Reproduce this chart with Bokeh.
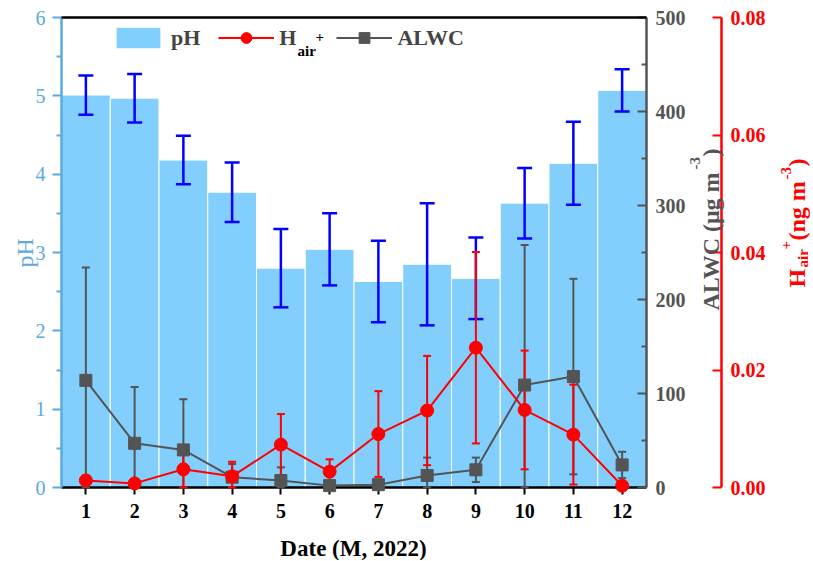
import numpy as np
from bokeh.plotting import figure
from bokeh.models import (Range1d, LinearAxis, FixedTicker, ColumnDataSource, Whisker,
                          TeeHead, Legend, LegendItem, Label, PrintfTickFormatter)
from bokeh.embed import file_html
from bokeh.resources import INLINE

# ---------------- data ----------------
months = list(range(1, 13))
month_labels = [str(m) for m in months]
ph = [5.01, 4.97, 4.18, 3.77, 2.80, 3.04, 2.63, 2.85, 2.67, 3.63, 4.14, 5.07]
ph_err = [0.25, 0.31, 0.31, 0.38, 0.50, 0.46, 0.52, 0.78, 0.52, 0.45, 0.53, 0.27]
alwc = [114, 47, 40, 11, 7.4, 2, 3, 12.8, 18.8, 109, 118, 24]
alwc_err = [120, 60, 54, 14, 14, 3, 3, 19, 13, 149, 104, 14]
h_air = [0.0012, 0.0007, 0.0031, 0.0019, 0.0073, 0.0027, 0.0091, 0.0131, 0.0238, 0.0132, 0.0090, 0.0003]
h_err = [0.0008, 0.0003, 0.0038, 0.0025, 0.0052, 0.0021, 0.0073, 0.0093, 0.0163, 0.0101, 0.0085, 0.0004]

ph_ticks = [0, 1, 2, 3, 4, 5, 6]
ph_minor = [0.5, 1.5, 2.5, 3.5, 4.5, 5.5]
alwc_ticks = [0, 100, 200, 300, 400, 500]
alwc_minor = [50, 150, 250, 350, 450]
h_ticks = [0.0, 0.02, 0.04, 0.06, 0.08]

PH_MAX, ALWC_MAX, H_MAX = 6, 500, 0.08

FONT = "Liberation Serif"
BLUE_AX = "#5AAAE0"
GREY = "#545454"
RED = "#FF0000"
BAR = "#82CFFD"
NB = "\u00a0"

# ---------------- layout (pixels inside the canvas; the frame fills the canvas) -------------
FIG_W, FIG_H = 810, 560
DATA_L, DATA_W = 61, 585          # data area left edge / width
DATA_B, DATA_H = 73, 470          # data area bottom edge (from canvas bottom) / height
H_AXIS_OFF = 75                   # second right axis, px right of the data area
X0, X1 = 0.5, 12.5


def span(lo, hi, px_lo, px_len, total):
    k = (hi - lo) / px_len
    return Range1d(lo - px_lo * k, lo + (total - px_lo) * k)


xr = span(X0, X1, DATA_L, DATA_W, FIG_W)
yr = span(0, PH_MAX, DATA_B, DATA_H, FIG_H)
alwc_r = span(0, ALWC_MAX, DATA_B, DATA_H, FIG_H)
h_r = span(0, H_MAX, DATA_B, DATA_H, FIG_H)
H_AXIS_X = X1 + H_AXIS_OFF * (X1 - X0) / DATA_W

p = figure(width=FIG_W, height=FIG_H, x_range=xr, y_range=yr,
           x_axis_location=None, y_axis_location=None,
           output_backend="svg", toolbar_location=None,
           min_border_left=0, min_border_top=0, min_border_bottom=0, min_border_right=0)
p.extra_y_ranges = {"alwc": alwc_r, "h": h_r}
p.outline_line_color = None
p.background_fill_color = "white"
p.border_fill_color = "white"
p.xgrid.visible = False
p.ygrid.visible = False


def style_axis(ax, color, bold=True):
    ax.axis_line_color = color
    ax.major_tick_line_color = color
    ax.minor_tick_line_color = color
    ax.major_label_text_color = color
    ax.axis_line_width = 2.5
    ax.major_tick_line_width = 2
    ax.minor_tick_line_width = 2
    ax.major_label_text_font = FONT
    ax.major_label_text_font_style = "bold" if bold else "normal"
    ax.major_label_text_font_size = "20px"


# x axis (at pH = 0)
xa = LinearAxis(fixed_location=0, ticker=FixedTicker(ticks=months), bounds=(X0, X1),
                major_label_overrides={m: l for m, l in zip(months, month_labels)})
style_axis(xa, "black")
xa.major_tick_out = 7
xa.major_tick_in = 0
xa.minor_tick_line_color = None
xa.major_label_standoff = 9
p.add_layout(xa, "below")

# left axis (pH)
ya = LinearAxis(fixed_location=X0, bounds=(0, PH_MAX),
                ticker=FixedTicker(ticks=ph_ticks, minor_ticks=ph_minor))
style_axis(ya, BLUE_AX, bold=False)
ya.major_tick_out = 9
ya.major_tick_in = 0
ya.minor_tick_out = 5
ya.minor_tick_in = 0
ya.major_label_standoff = 7
p.add_layout(ya, "left")

# right axis ALWC
ra = LinearAxis(y_range_name="alwc", fixed_location=X1, bounds=(0, ALWC_MAX),
                ticker=FixedTicker(ticks=alwc_ticks, minor_ticks=alwc_minor))
style_axis(ra, GREY)
ra.major_tick_in = 9
ra.major_tick_out = 0
ra.minor_tick_in = 5
ra.minor_tick_out = 0
ra.major_label_standoff = 9
p.add_layout(ra, "right")

# right axis H_air+
ha = LinearAxis(y_range_name="h", fixed_location=H_AXIS_X, bounds=(0, H_MAX),
                ticker=FixedTicker(ticks=h_ticks, minor_ticks=[]),
                formatter=PrintfTickFormatter(format="%.2f"))
style_axis(ha, RED)
ha.minor_tick_line_color = None
ha.major_tick_in = 9
ha.major_tick_out = 0
ha.major_label_standoff = 9
p.add_layout(ha, "right")

# top border line of the data area
p.segment(x0=[X0], y0=[PH_MAX], x1=[X1], y1=[PH_MAX], line_color="black", line_width=2.5,
          level="overlay")

# ---------------- glyphs ----------------
ph_src = ColumnDataSource(dict(x=months, top=ph,
                               up=[v + e for v, e in zip(ph, ph_err)],
                               lo=[v - e for v, e in zip(ph, ph_err)]))
al_src = ColumnDataSource(dict(x=months, y=alwc,
                               up=[v + e for v, e in zip(alwc, alwc_err)],
                               lo=[max(v - e, 0) for v, e in zip(alwc, alwc_err)]))
h_src = ColumnDataSource(dict(x=months, y=h_air,
                              up=[v + e for v, e in zip(h_air, h_err)],
                              lo=[max(v - e, 0) for v, e in zip(h_air, h_err)]))

bars = p.vbar(x="x", top="top", bottom=0, width=1.0, source=ph_src, fill_color=BAR,
              line_color="white", line_width=1)

p.add_layout(Whisker(base="x", upper="up", lower="lo", source=ph_src, line_color="#0000FF",
                     line_width=2.5, level="annotation",
                     upper_head=TeeHead(size=15, line_color="#0000FF", line_width=2.5),
                     lower_head=TeeHead(size=15, line_color="#0000FF", line_width=2.5)))
p.add_layout(Whisker(base="x", upper="up", lower="lo", source=al_src, y_range_name="alwc",
                     line_color=GREY, line_width=2, level="annotation",
                     upper_head=TeeHead(size=8, line_color=GREY, line_width=2),
                     lower_head=TeeHead(size=8, line_color=GREY, line_width=2)))
p.add_layout(Whisker(base="x", upper="up", lower="lo", source=h_src, y_range_name="h",
                     line_color=RED, line_width=2, level="annotation",
                     upper_head=TeeHead(size=8, line_color=RED, line_width=2),
                     lower_head=TeeHead(size=8, line_color=RED, line_width=2)))

al_line = p.line("x", "y", source=al_src, y_range_name="alwc", line_color=GREY, line_width=2,
                 level="overlay")
al_pts = p.scatter("x", "y", source=al_src, y_range_name="alwc", marker="square", size=12,
                   fill_color=GREY, line_color=GREY, level="overlay")
h_line = p.line("x", "y", source=h_src, y_range_name="h", line_color=RED, line_width=2,
                level="overlay")
h_pts = p.scatter("x", "y", source=h_src, y_range_name="h", marker="circle", size=13,
                  fill_color=RED, line_color=RED, level="overlay")

# ---------------- legend ----------------
LX, LY = DATA_L + 49, DATA_B + 436
legend = Legend(items=[LegendItem(label="pH", renderers=[bars]),
                       LegendItem(label="H" + NB * 4, renderers=[h_line, h_pts]),
                       LegendItem(label="ALWC", renderers=[al_line, al_pts])],
                orientation="horizontal", location=(LX, LY), padding=0, margin=0,
                spacing=18, glyph_width=56, glyph_height=27, label_standoff=5,
                label_text_font=FONT, label_text_font_style="bold", label_text_font_size="22px",
                background_fill_alpha=0, border_line_alpha=0)
p.add_layout(legend, "center")


def lab(text, x, y, size, color, angle=0.0, bold=True, align="left", baseline="alphabetic"):
    return Label(x=x, y=y, x_units="screen", y_units="screen", text=text, angle=angle,
                 text_font=FONT, text_font_style="bold" if bold else "normal",
                 text_font_size=size, text_color=color, text_align=align,
                 text_baseline=baseline)


def at(px, py):
    """picture-pixel position (from top-left) -> canvas position (from bottom-left)"""
    return px, FIG_H - py


V = np.pi / 2
labels = [
    # legend sub/superscript of H_air+
    ("air", (297, 50), "15px", "black", 0.0, True, "left"),
    ("+", (315, 36), "15px", "black", 0.0, True, "left"),
    # axis titles
    ("pH", (24, 267), "24px", BLUE_AX, V, False, "left"),
    ("Date (M, 2022)", (353, 548), "23px", "black", 0.0, True, "center"),
    ("ALWC (\u03bcg m", (710, 310), "24px", GREY, V, True, "left"),
    ("-3", (694, 169), "15px", GREY, V, True, "left"),
    (")", (710, 156), "24px", GREY, V, True, "left"),
    ("H", (796, 287), "24px", RED, V, True, "left"),
    ("air", (802, 267), "15px", RED, V, True, "left"),
    ("+", (785, 249), "15px", RED, V, True, "left"),
    ("(ng m", (796, 240), "24px", RED, V, True, "left"),
    ("-3", (785, 179), "15px", RED, V, True, "left"),
    (")", (796, 166), "24px", RED, V, True, "left"),
]
for text, (px, py), size, color, ang, bold, align in labels:
    fx, fy = at(px, py)
    p.add_layout(lab(text, fx, fy, size, color, ang, bold, align))

open("out.html", "w").write(file_html(p, INLINE))
